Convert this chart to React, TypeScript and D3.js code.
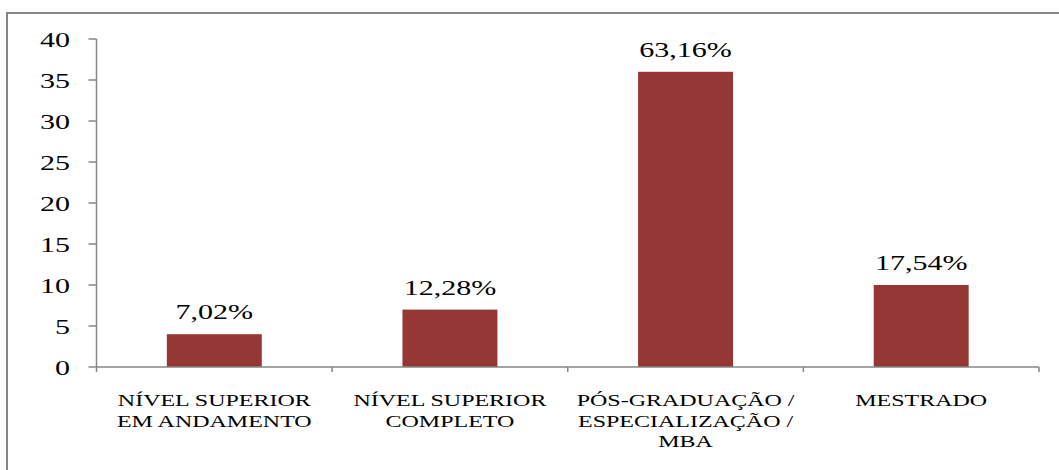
import React from "react";
import * as d3 from "d3";

const categories: string[][] = [
  ["NÍVEL SUPERIOR", "EM ANDAMENTO"],
  ["NÍVEL SUPERIOR", "COMPLETO"],
  ["PÓS-GRADUAÇÃO /", "ESPECIALIZAÇÃO /", "MBA"],
  ["MESTRADO"],
];
const values: number[] = [4, 7, 36, 10];
const percentLabels: string[] = ["7,02%", "12,28%", "63,16%", "17,54%"];
const yTicks: number[] = [0, 5, 10, 15, 20, 25, 30, 35, 40];

const W = 1059;
const H = 470;
const left = 96.5;
const right = 1039;
const top = 39;
const bottom = 367;
const SX = 1.43;
const FONT = "'Liberation Serif', 'Times New Roman', serif";
const GRAY = "#868686";
const BAR = "#953735";

export default function App() {
  const idx = categories.map((_, i) => String(i));
  const x = d3.scaleBand<string>().domain(idx).range([left, right]).padding(0);
  const y = d3.scaleLinear().domain([0, 40]).range([bottom, top]);
  const bw = x.bandwidth() * 0.403;

  const stretched = (cx: number, cy: number, children: React.ReactNode, key?: any, sx: number = SX) => (
    <g key={key} transform={`translate(${cx},${cy}) scale(${sx},1)`}>{children}</g>
  );

  return (
    <svg width={W} height={H} style={{ position: "absolute", left: 0, top: 0, background: "#fff" }}>
      <rect x={7} y={13} width={W + 20} height={H + 20} fill="#fff" stroke={GRAY} strokeWidth={2} />
      {/* bars */}
      {values.map((v, i) => {
        const cx = (x(String(i)) as number) + x.bandwidth() / 2;
        return (
          <rect key={"b" + i} x={cx - bw / 2} y={y(v)} width={bw} height={y(0) - y(v)} fill={BAR} />
        );
      })}
      {/* y axis */}
      <line x1={left} x2={left} y1={top} y2={bottom} stroke={GRAY} strokeWidth={1.5} />
      {yTicks.map((t) => (
        <g key={"yt" + t}>
          <line x1={left - 8} x2={left} y1={y(t)} y2={y(t)} stroke={GRAY} strokeWidth={1.5} />
          {stretched(
            70,
            y(t) + 7.5,
            <text textAnchor="end" fontFamily={FONT} fontSize={21} fill="#000">{t}</text>
          )}
        </g>
      ))}
      {/* x axis */}
      <line x1={left} x2={right} y1={bottom} y2={bottom} stroke={GRAY} strokeWidth={1.5} />
      {idx.concat([String(idx.length)]).map((k, i) => {
        const xx = i < idx.length ? (x(k) as number) : right;
        return <line key={"xt" + i} x1={xx} x2={xx} y1={bottom} y2={bottom + 5} stroke={GRAY} strokeWidth={1.5} />;
      })}
      {/* category labels */}
      {categories.map((lines, i) => {
        const cx = (x(String(i)) as number) + x.bandwidth() / 2;
        return lines.map((ln, j) =>
          stretched(
            cx,
            406 + j * 20.5,
            <text textAnchor="middle" fontFamily={FONT} fontSize={16} fill="#000">{ln}</text>,
            "c" + i + "_" + j,
            1.5
          )
        );
      })}
      {/* value labels */}
      {values.map((v, i) => {
        const cx = (x(String(i)) as number) + x.bandwidth() / 2;
        return stretched(
          cx,
          y(v) - 15,
          <text textAnchor="middle" fontFamily={FONT} fontSize={21} fill="#000">{percentLabels[i]}</text>,
          "p" + i
        );
      })}
    </svg>
  );
}
